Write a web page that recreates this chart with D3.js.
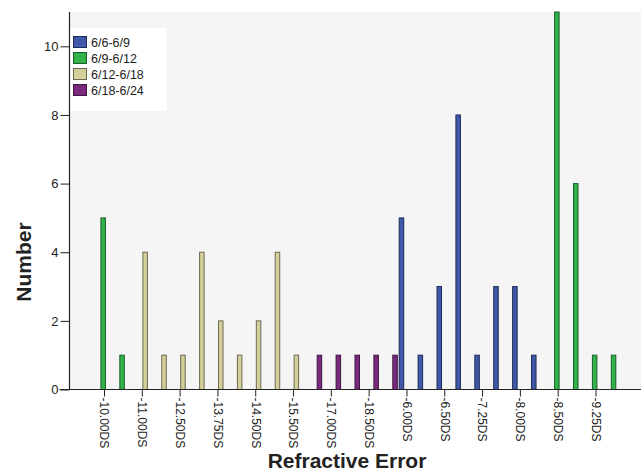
<!DOCTYPE html>
<html>
<head>
<meta charset="utf-8">
<script src="https://cdn.jsdelivr.net/npm/d3@7"></script>
<style>
  html, body { margin: 0; padding: 0; background: #ffffff; }
  svg { display: block; }
  text { font-family: "Liberation Sans", Arial, sans-serif; fill: #222; }
</style>
</head>
<body>
<svg id="chart" width="641" height="474"></svg>
<script>
// Refraction categories (string-sorted, as the statistics package orders them)
const categories = [
  "-10.00DS", "-10.50DS", "-11.00DS", "-12.00DS", "-12.50DS", "-13.00DS", "-13.75DS",
  "-14.00DS", "-14.50DS", "-15.00DS", "-15.50DS", "-16.00DS", "-17.00DS", "-18.00DS",
  "-18.50DS", "-19.00DS", "-6.00DS", "-6.25DS", "-6.50DS", "-7.00DS", "-7.25DS",
  "-7.50DS", "-8.00DS", "-8.25DS", "-8.50DS", "-9.00DS", "-9.25DS", "-9.50DS"
];

// Visual-acuity groups
const seriesNames = ["6/6-6/9", "6/9-6/12", "6/12-6/18", "6/18-6/24"];

// Counts per category, one array per acuity group
const acuity6_9   = [0,0,0,0,0,0,0,0,0,0,0,0,0,0,0,0,5,1,3,8,1,3,3,1,0,0,0,0];
const acuity6_12  = [5,1,0,0,0,0,0,0,0,0,0,0,0,0,0,0,0,0,0,0,0,0,0,0,11,6,1,1];
const acuity6_18  = [0,0,4,1,1,4,2,1,2,4,1,0,0,0,0,0,0,0,0,0,0,0,0,0,0,0,0,0];
const acuity6_24  = [0,0,0,0,0,0,0,0,0,0,0,1,1,1,1,1,0,0,0,0,0,0,0,0,0,0,0,0];

const seriesValues = [acuity6_9, acuity6_12, acuity6_18, acuity6_24];
const seriesFill   = ["#3f58a9", "#2fb34a", "#d5d09b", "#7a2a7c"];
const seriesStroke = ["#1d2a55", "#1b5e28", "#6b6950", "#3d1440"];

// Only every other category is labelled on the axis
const xTickLabels = categories.filter((d, i) => i % 2 === 0);
const yTicks = [0, 2, 4, 6, 8, 10];

const svg = d3.select("#chart");

const plot = { left: 69.5, right: 641, top: 12, bottom: 389.5 };

// Plot background
svg.append("rect")
  .attr("x", plot.left).attr("y", plot.top)
  .attr("width", plot.right - plot.left).attr("height", plot.bottom - plot.top)
  .attr("fill", "#f5f5f5");

const x = d3.scalePoint().domain(categories).range([104, 614.4]);
const xInner = d3.scalePoint().domain(seriesNames).range([-5, 7.5]);
const y = d3.scaleLinear().domain([0, 11]).range([plot.bottom, plot.top]);

const barW = 4.5;

// Bars: one per non-zero count
const bars = [];
seriesValues.forEach((vals, s) => {
  vals.forEach((v, i) => {
    if (v > 0) bars.push({ cat: categories[i], series: s, value: v });
  });
});

svg.append("g").selectAll("rect")
  .data(bars)
  .join("rect")
  .attr("x", d => x(d.cat) + xInner(seriesNames[d.series]) - barW / 2)
  .attr("y", d => y(d.value))
  .attr("width", barW)
  .attr("height", d => y(0) - y(d.value))
  .attr("fill", d => seriesFill[d.series])
  .attr("stroke", d => seriesStroke[d.series])
  .attr("stroke-width", 1);

// Y axis
const yAxis = d3.axisLeft(y).tickValues(yTicks).tickSize(9).tickPadding(2).tickFormat(d3.format("d"));
const gy = svg.append("g").attr("transform", `translate(${plot.left},0)`).call(yAxis);
gy.select(".domain").attr("stroke", "#222").attr("stroke-width", 1.2).attr("d", `M0,${plot.top}V${plot.bottom}`);
gy.selectAll(".tick line").attr("stroke", "#222");
gy.selectAll(".tick text").style("font-size", "13px").attr("fill", "#222");

// X axis
const xAxis = d3.axisBottom(x).tickValues(xTickLabels).tickSize(7).tickSizeOuter(0);
const gx = svg.append("g").attr("transform", `translate(0,${plot.bottom})`).call(xAxis);
gx.select(".domain").attr("stroke", "#222").attr("stroke-width", 1.2).attr("d", `M${plot.left - 10},0H${plot.right}`);
gx.selectAll(".tick line").attr("stroke", "#222");
gx.selectAll(".tick text")
  .style("font-size", "12px")
  .attr("fill", "#222")
  .attr("text-anchor", "start")
  .attr("transform", "rotate(90)")
  .attr("x", 8)
  .attr("y", 0)
  .attr("dy", "0.35em");

// Axis titles
svg.append("text")
  .attr("x", 347).attr("y", 468)
  .attr("text-anchor", "middle")
  .style("font-size", "21px").style("font-weight", "bold")
  .attr("fill", "#111")
  .text("Refractive Error");

svg.append("text")
  .attr("transform", "translate(31,262) rotate(-90)")
  .attr("text-anchor", "middle")
  .style("font-size", "21px").style("font-weight", "bold")
  .attr("fill", "#111")
  .text("Number");

// Legend
const legend = svg.append("g");
legend.append("rect")
  .attr("x", 70.5).attr("y", 28).attr("width", 96).attr("height", 83)
  .attr("fill", "#ffffff");
const rows = legend.selectAll("g.row")
  .data(seriesNames)
  .join("g")
  .attr("class", "row")
  .attr("transform", (d, i) => `translate(73,${36 + i * 16})`);
rows.append("rect")
  .attr("x", 0.5).attr("y", 0.5).attr("width", 13).attr("height", 11)
  .attr("fill", (d, i) => seriesFill[i])
  .attr("stroke", (d, i) => seriesStroke[i]);
rows.append("text")
  .attr("x", 18).attr("y", 10.5)
  .style("font-size", "12.5px")
  .attr("fill", "#222")
  .text(d => d);
</script>
</body>
</html>
